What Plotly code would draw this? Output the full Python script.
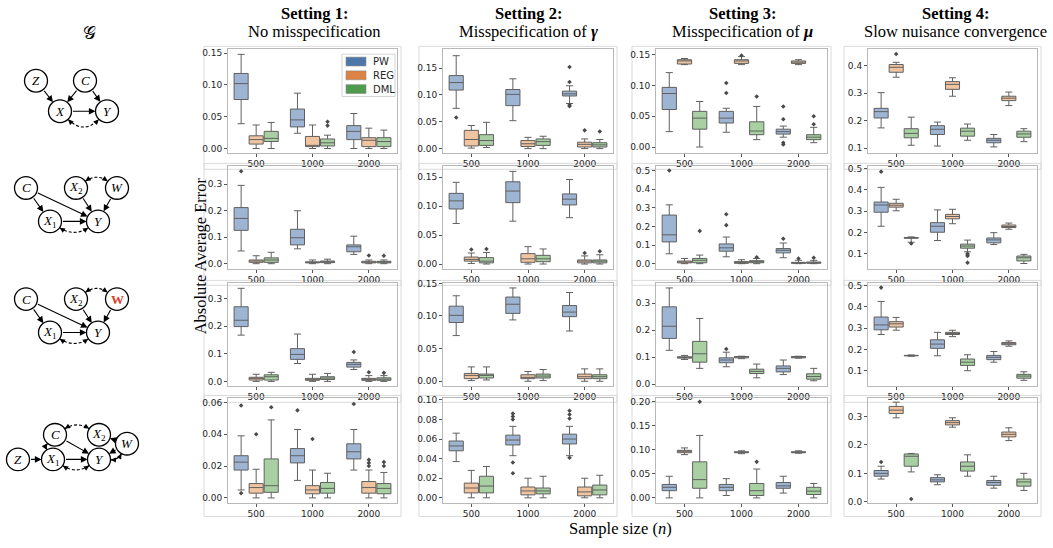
import math
import plotly.graph_objects as go

W, H = 1053, 548

# ---------------- data ----------------
SAMPLE_SIZES = [500, 1000, 2000]
METHODS = ["PW", "REG", "DML"]
SETTING_TITLES = ["<b>Setting 1:</b>", "<b>Setting 2:</b>", "<b>Setting 3:</b>", "<b>Setting 4:</b>"]
SETTING_SUBTITLES = ["No misspecification", "Misspecification of <b><i>γ</i></b>",
                     "Misspecification of <b><i>μ</i></b>", "Slow nuisance convergence"]

# each box: (lower whisker, q1, median, q3, upper whisker) for n = 500, 1000, 2000
# Graph 1
G1_S1_PW = [(0.039, 0.077, 0.102, 0.118, 0.148), (0.024, 0.034, 0.045, 0.062, 0.087), (0.0, 0.014, 0.027, 0.036, 0.055)]
G1_S1_REG = [(0.0, 0.007, 0.014, 0.020, 0.037), (0.0, 0.003, 0.005, 0.019, 0.037), (0.0, 0.003, 0.013, 0.017, 0.032)]
G1_S1_DML = [(0.0, 0.011, 0.016, 0.027, 0.041), (0.0, 0.004, 0.009, 0.015, 0.021), (0.0, 0.003, 0.011, 0.017, 0.029)]
G1_S1_OUT = [("DML", 1000, 0.042), ("DML", 1000, 0.036)]

G1_S2_PW = [(0.075, 0.109, 0.123, 0.136, 0.173), (0.052, 0.080, 0.101, 0.110, 0.130), (0.084, 0.098, 0.102, 0.107, 0.117)]
G1_S2_REG = [(0.001, 0.005, 0.017, 0.034, 0.043), (0.0, 0.004, 0.009, 0.015, 0.021), (0.0, 0.003, 0.008, 0.012, 0.018)]
G1_S2_DML = [(0.002, 0.006, 0.015, 0.026, 0.049), (0.0, 0.006, 0.013, 0.018, 0.023), (0.0, 0.003, 0.007, 0.011, 0.017)]
G1_S2_OUT = [("PW", 500, 0.058), ("PW", 2000, 0.152), ("PW", 2000, 0.124), ("PW", 2000, 0.081),
             ("PW", 2000, 0.079), ("REG", 2000, 0.034), ("DML", 2000, 0.032)]

G1_S3_PW = [(0.025, 0.061, 0.087, 0.097, 0.121), (0.024, 0.039, 0.047, 0.058, 0.063), (0.016, 0.021, 0.025, 0.029, 0.034)]
G1_S3_REG = [(0.134, 0.135, 0.140, 0.142, 0.144), (0.134, 0.136, 0.140, 0.142, 0.147), (0.134, 0.136, 0.138, 0.140, 0.142)]
G1_S3_DML = [(0.0, 0.029, 0.047, 0.058, 0.074), (0.012, 0.020, 0.026, 0.041, 0.066), (0.007, 0.012, 0.016, 0.020, 0.032)]
G1_S3_OUT = [("PW", 1000, 0.104), ("PW", 1000, 0.088), ("REG", 1000, 0.149), ("DML", 1000, 0.082),
             ("PW", 2000, 0.066), ("PW", 2000, 0.045), ("PW", 2000, 0.007), ("PW", 2000, 0.004),
             ("DML", 2000, 0.050), ("DML", 2000, 0.037)]

G1_S4_PW = [(0.174, 0.210, 0.233, 0.245, 0.302), (0.108, 0.150, 0.169, 0.182, 0.195), (0.105, 0.120, 0.129, 0.136, 0.150)]
G1_S4_REG = [(0.358, 0.376, 0.394, 0.404, 0.412), (0.289, 0.314, 0.332, 0.342, 0.356), (0.255, 0.273, 0.282, 0.289, 0.304)]
G1_S4_DML = [(0.111, 0.138, 0.154, 0.171, 0.213), (0.129, 0.144, 0.162, 0.173, 0.188), (0.124, 0.140, 0.152, 0.162, 0.171)]
G1_S4_OUT = [("REG", 500, 0.442)]

# Graph 2
G2_S1_PW = [(0.048, 0.126, 0.171, 0.212, 0.296), (0.056, 0.071, 0.098, 0.130, 0.200), (0.035, 0.045, 0.064, 0.071, 0.104)]
G2_S1_REG = [(0.0, 0.005, 0.010, 0.014, 0.030), (0.0, 0.003, 0.005, 0.007, 0.014), (0.0, 0.003, 0.006, 0.009, 0.014)]
G2_S1_DML = [(0.0, 0.005, 0.014, 0.022, 0.043), (0.0, 0.004, 0.007, 0.010, 0.017), (0.0, 0.003, 0.006, 0.009, 0.014)]
G2_S1_OUT = [("PW", 500, 0.349), ("REG", 2000, 0.031), ("DML", 2000, 0.030)]

G2_S2_PW = [(0.070, 0.095, 0.109, 0.122, 0.141), (0.074, 0.106, 0.126, 0.142, 0.160), (0.080, 0.102, 0.112, 0.121, 0.146)]
G2_S2_REG = [(0.001, 0.005, 0.008, 0.012, 0.019), (0.0, 0.003, 0.009, 0.018, 0.030), (0.0, 0.002, 0.005, 0.007, 0.014)]
G2_S2_DML = [(0.0, 0.002, 0.005, 0.011, 0.020), (0.0, 0.004, 0.009, 0.015, 0.026), (0.0, 0.002, 0.005, 0.007, 0.016)]
G2_S2_OUT = [("REG", 500, 0.025), ("DML", 500, 0.026), ("REG", 2000, 0.019), ("DML", 2000, 0.022)]

G2_S3_PW = [(0.053, 0.117, 0.155, 0.261, 0.316), (0.037, 0.067, 0.085, 0.106, 0.143), (0.032, 0.058, 0.072, 0.081, 0.111)]
G2_S3_REG = [(0.0, 0.004, 0.009, 0.014, 0.028), (0.0, 0.002, 0.005, 0.011, 0.021), (0.0, 0.002, 0.004, 0.007, 0.018)]
G2_S3_DML = [(0.0, 0.005, 0.018, 0.028, 0.046), (0.0, 0.005, 0.011, 0.016, 0.028), (0.0, 0.002, 0.005, 0.009, 0.018)]
G2_S3_OUT = [("PW", 500, 0.50), ("DML", 500, 0.175), ("PW", 1000, 0.265), ("PW", 1000, 0.207),
             ("DML", 1000, 0.034), ("PW", 2000, 0.134), ("REG", 2000, 0.028), ("DML", 2000, 0.032)]

G2_S4_PW = [(0.229, 0.295, 0.329, 0.343, 0.412), (0.162, 0.201, 0.229, 0.246, 0.306), (0.143, 0.151, 0.165, 0.174, 0.199)]
G2_S4_REG = [(0.302, 0.319, 0.328, 0.337, 0.356), (0.241, 0.264, 0.275, 0.285, 0.309), (0.215, 0.223, 0.227, 0.235, 0.244)]
G2_S4_DML = [(0.154, 0.173, 0.174, 0.176, 0.179), (0.109, 0.126, 0.136, 0.145, 0.164), (0.054, 0.066, 0.081, 0.089, 0.097)]
G2_S4_OUT = [("PW", 500, 0.486), ("DML", 500, 0.148), ("DML", 1000, 0.100), ("DML", 1000, 0.094),
             ("DML", 1000, 0.089), ("DML", 1000, 0.058)]

# Graph 3
G3_S1_PW = [(0.168, 0.199, 0.222, 0.271, 0.338), (0.065, 0.080, 0.098, 0.119, 0.172), (0.043, 0.052, 0.062, 0.069, 0.078)]
G3_S1_REG = [(0.0, 0.005, 0.011, 0.015, 0.026), (0.0, 0.004, 0.007, 0.011, 0.026), (0.0, 0.004, 0.007, 0.011, 0.021)]
G3_S1_DML = [(0.0, 0.005, 0.017, 0.024, 0.033), (0.0, 0.007, 0.012, 0.017, 0.029), (0.0, 0.004, 0.008, 0.013, 0.021)]
G3_S1_OUT = [("PW", 2000, 0.107), ("REG", 2000, 0.033), ("DML", 2000, 0.031)]

G3_S2_PW = [(0.070, 0.090, 0.101, 0.115, 0.131), (0.094, 0.104, 0.118, 0.129, 0.143), (0.077, 0.099, 0.106, 0.116, 0.136)]
G3_S2_REG = [(0.001, 0.004, 0.009, 0.012, 0.022), (0.0, 0.004, 0.006, 0.010, 0.015), (0.0, 0.004, 0.007, 0.011, 0.019)]
G3_S2_DML = [(0.002, 0.005, 0.009, 0.011, 0.022), (0.001, 0.005, 0.008, 0.011, 0.018), (0.0, 0.004, 0.007, 0.010, 0.019)]
G3_S2_OUT = []

G3_S3_PW = [(0.125, 0.169, 0.214, 0.286, 0.356), (0.064, 0.079, 0.089, 0.097, 0.118), (0.035, 0.045, 0.058, 0.067, 0.089)]
G3_S3_REG = [(0.091, 0.096, 0.098, 0.101, 0.106), (0.094, 0.097, 0.100, 0.102, 0.103), (0.096, 0.097, 0.100, 0.102, 0.103)]
G3_S3_DML = [(0.058, 0.081, 0.112, 0.158, 0.243), (0.023, 0.039, 0.047, 0.055, 0.074), (0.012, 0.018, 0.028, 0.038, 0.058)]
G3_S3_OUT = [("PW", 1000, 0.130)]

G3_S4_PW = [(0.270, 0.292, 0.315, 0.352, 0.425), (0.170, 0.205, 0.225, 0.245, 0.280), (0.140, 0.152, 0.163, 0.172, 0.190)]
G3_S4_REG = [(0.290, 0.305, 0.320, 0.330, 0.350), (0.260, 0.270, 0.275, 0.280, 0.290), (0.215, 0.222, 0.226, 0.232, 0.240)]
G3_S4_DML = [(0.168, 0.170, 0.171, 0.172, 0.174), (0.100, 0.125, 0.140, 0.155, 0.175), (0.055, 0.065, 0.075, 0.083, 0.095)]
G3_S4_OUT = [("PW", 500, 0.490)]

# Graph 4
G4_S1_PW = [(0.005, 0.0175, 0.0225, 0.0265, 0.039), (0.011, 0.022, 0.0265, 0.031, 0.043), (0.0175, 0.0245, 0.029, 0.034, 0.043)]
G4_S1_REG = [(0.0, 0.003, 0.0065, 0.009, 0.018), (0.0, 0.0026, 0.005, 0.0077, 0.0175), (0.0, 0.003, 0.0065, 0.0103, 0.0175)]
G4_S1_DML = [(0.0, 0.0035, 0.0077, 0.0245, 0.049), (0.0, 0.003, 0.006, 0.0097, 0.0155), (0.0, 0.0026, 0.006, 0.009, 0.016)]
G4_S1_OUT = [("PW", 500, 0.058), ("PW", 500, 0.003), ("DML", 500, 0.057), ("REG", 500, 0.040),
             ("PW", 1000, 0.055), ("REG", 1000, 0.037), ("PW", 2000, 0.059), ("REG", 2000, 0.024),
             ("REG", 2000, 0.022), ("REG", 2000, 0.020), ("DML", 2000, 0.0225), ("DML", 2000, 0.020)]

G4_S2_PW = [(0.037, 0.048, 0.053, 0.058, 0.066), (0.043, 0.054, 0.059, 0.064, 0.073), (0.043, 0.055, 0.060, 0.065, 0.073)]
G4_S2_REG = [(0.0, 0.005, 0.010, 0.015, 0.028), (0.0, 0.003, 0.007, 0.011, 0.020), (0.0, 0.002, 0.006, 0.011, 0.020)]
G4_S2_DML = [(0.0, 0.005, 0.012, 0.022, 0.032), (0.0, 0.004, 0.007, 0.010, 0.022), (0.0, 0.003, 0.008, 0.013, 0.023)]
G4_S2_OUT = [("PW", 1000, 0.080), ("PW", 1000, 0.083), ("PW", 1000, 0.086), ("PW", 1000, 0.036),
             ("PW", 1000, 0.025), ("PW", 2000, 0.081), ("PW", 2000, 0.085), ("PW", 2000, 0.089),
             ("PW", 2000, 0.041)]

G4_S3_PW = [(0.0, 0.015, 0.022, 0.028, 0.045), (0.005, 0.015, 0.022, 0.028, 0.040), (0.010, 0.020, 0.025, 0.032, 0.045)]
G4_S3_REG = [(0.090, 0.094, 0.097, 0.099, 0.104), (0.092, 0.094, 0.095, 0.096, 0.098), (0.093, 0.094, 0.095, 0.096, 0.098)]
G4_S3_DML = [(0.0, 0.020, 0.038, 0.075, 0.130), (0.0, 0.005, 0.015, 0.030, 0.060), (0.0, 0.007, 0.014, 0.022, 0.030)]
G4_S3_OUT = [("DML", 500, 0.200), ("DML", 1000, 0.075)]

G4_S4_PW = [(0.080, 0.090, 0.100, 0.110, 0.125), (0.060, 0.070, 0.077, 0.085, 0.095), (0.048, 0.058, 0.068, 0.075, 0.090)]
G4_S4_REG = [(0.295, 0.310, 0.322, 0.335, 0.350), (0.262, 0.270, 0.278, 0.285, 0.295), (0.215, 0.228, 0.237, 0.245, 0.260)]
G4_S4_DML = [(0.105, 0.125, 0.160, 0.168, 0.170), (0.090, 0.108, 0.125, 0.140, 0.165), (0.040, 0.055, 0.070, 0.080, 0.100)]
G4_S4_OUT = [("PW", 500, 0.140), ("DML", 500, 0.010)]

PANELS = [
    [(G1_S1_PW, G1_S1_REG, G1_S1_DML, G1_S1_OUT), (G1_S2_PW, G1_S2_REG, G1_S2_DML, G1_S2_OUT),
     (G1_S3_PW, G1_S3_REG, G1_S3_DML, G1_S3_OUT), (G1_S4_PW, G1_S4_REG, G1_S4_DML, G1_S4_OUT)],
    [(G2_S1_PW, G2_S1_REG, G2_S1_DML, G2_S1_OUT), (G2_S2_PW, G2_S2_REG, G2_S2_DML, G2_S2_OUT),
     (G2_S3_PW, G2_S3_REG, G2_S3_DML, G2_S3_OUT), (G2_S4_PW, G2_S4_REG, G2_S4_DML, G2_S4_OUT)],
    [(G3_S1_PW, G3_S1_REG, G3_S1_DML, G3_S1_OUT), (G3_S2_PW, G3_S2_REG, G3_S2_DML, G3_S2_OUT),
     (G3_S3_PW, G3_S3_REG, G3_S3_DML, G3_S3_OUT), (G3_S4_PW, G3_S4_REG, G3_S4_DML, G3_S4_OUT)],
    [(G4_S1_PW, G4_S1_REG, G4_S1_DML, G4_S1_OUT), (G4_S2_PW, G4_S2_REG, G4_S2_DML, G4_S2_OUT),
     (G4_S3_PW, G4_S3_REG, G4_S3_DML, G4_S3_OUT), (G4_S4_PW, G4_S4_REG, G4_S4_DML, G4_S4_OUT)],
]

# ---------------- layout / style ----------------
COL_X = [(228, 397), (443, 613), (656, 827), (868, 1037)]
ROW_Y = [(45, 150), (164, 268), (283, 387), (400, 506)]
Y_RANGES = [
    [(-0.0063, 0.156), (-0.0073, 0.185), (-0.009, 0.159), (0.0845, 0.4595)],
    [(-0.0186, 0.368), (-0.0079, 0.1687), (-0.0265, 0.523), (0.030, 0.511)],
    [(-0.0154, 0.356), (-0.0067, 0.150), (-0.006, 0.373), (0.030, 0.510)],
    [(-0.003, 0.0625), (-0.005, 0.1015), (-0.010, 0.207), (-0.003, 0.363)],
]
Y_DTICK = [
    [(0.05, ".2f"), (0.05, ".2f"), (0.05, ".2f"), (0.1, ".1f")],
    [(0.1, ".1f"), (0.05, ".2f"), (0.1, ".1f"), (0.1, ".1f")],
    [(0.1, ".1f"), (0.05, ".2f"), (0.1, ".1f"), (0.1, ".1f")],
    [(0.02, ".2f"), (0.02, ".2f"), (0.05, ".2f"), (0.1, ".1f")],
]
BOX_FILL = {"PW": "#9db5d3", "REG": "#f0c4a0", "DML": "#a8d0a2"}
LEGEND_FILL = {"PW": "#4b78a9", "REG": "#db8344", "DML": "#4f9b4d"}
OFFSETS = {"PW": -0.267, "REG": 0.0, "DML": 0.267}
LINE_C = "#606060"
TICK_FONT = dict(family="DejaVu Sans", size=9, color="#262626")
SERIF = "Liberation Serif"


def px(x, y):
    return x / W, 1 - y / H


fig = go.Figure()
layout = dict(width=W, height=H, margin=dict(l=0, r=0, t=0, b=0, pad=0), autosize=False,
              paper_bgcolor="white", plot_bgcolor="white", showlegend=False,
              boxmode="overlay")
shapes = []
annotations = []

k = 0
for r in range(4):
    for c in range(4):
        k += 1
        xa = "x" if k == 1 else f"x{k}"
        ya = "y" if k == 1 else f"y{k}"
        pw, reg, dml, outs = PANELS[r][c]
        series = {"PW": pw, "REG": reg, "DML": dml}
        for m in METHODS:
            st = series[m]
            fig.add_trace(go.Box(
                x=[i + OFFSETS[m] for i in range(len(SAMPLE_SIZES))],
                lowerfence=[s[0] for s in st], q1=[s[1] for s in st], median=[s[2] for s in st],
                q3=[s[3] for s in st], upperfence=[s[4] for s in st],
                orientation="v", width=0.25, whiskerwidth=0.5, boxpoints=False,
                fillcolor=BOX_FILL[m], line=dict(color=LINE_C, width=1),
                xaxis=xa, yaxis=ya, hoverinfo="skip", name=m))
        if outs:
            fig.add_trace(go.Scatter(
                x=[SAMPLE_SIZES.index(n) + OFFSETS[m] for (m, n, v) in outs],
                y=[v for (m, n, v) in outs], mode="markers",
                marker=dict(symbol="diamond", size=3.5, color="#4a4a4a"),
                xaxis=xa, yaxis=ya, hoverinfo="skip"))
        x0, x1 = COL_X[c]
        y0, y1 = ROW_Y[r]
        dt, fmt = Y_DTICK[r][c]
        common = dict(showline=True, linecolor="#b8b8b8", linewidth=1, mirror=True,
                      ticks="outside", ticklen=3, tickcolor="#555", tickwidth=1,
                      showgrid=False, zeroline=False, tickfont=TICK_FONT)
        layout["xaxis" if k == 1 else f"xaxis{k}"] = dict(
            domain=[x0 / W, x1 / W], anchor=ya, range=[-0.5, 2.5],
            tickmode="array", tickvals=list(range(len(SAMPLE_SIZES))),
            ticktext=[str(n) for n in SAMPLE_SIZES], **common)
        layout["yaxis" if k == 1 else f"yaxis{k}"] = dict(
            domain=[1 - y1 / H, 1 - y0 / H], anchor=xa, range=list(Y_RANGES[r][c]),
            tick0=0, dtick=dt, tickformat=fmt, **common)
        # subfigure frame
        fx0, fy0 = px(x0 - 24, y0 - 3)
        fx1, fy1 = px(x1 + 4, y1 + (14 if r == 3 else 17))
        shapes.append(dict(type="rect", xref="paper", yref="paper", x0=fx0, x1=fx1, y0=fy0, y1=fy1,
                           line=dict(color="#dadada", width=1), layer="below"))

# custom legend in first panel
lx0, ly0 = px(342, 50)
lx1, ly1 = px(395, 93)
shapes.append(dict(type="rect", xref="paper", yref="paper", x0=lx0, x1=lx1, y0=ly0, y1=ly1,
                   line=dict(color="#d4d4d4", width=1), fillcolor="white"))
for i, m in enumerate(METHODS):
    cy = 57.5 + 14 * i
    a0, b0 = px(346, cy - 4.5)
    a1, b1 = px(366, cy + 4.5)
    shapes.append(dict(type="rect", xref="paper", yref="paper", x0=a0, x1=a1, y0=b0, y1=b1,
                       line=dict(color="#8a8a8a", width=0.6), fillcolor=LEGEND_FILL[m]))
    tx, ty = px(371, cy)
    annotations.append(dict(x=tx, y=ty, xref="paper", yref="paper", text=m, showarrow=False,
                            xanchor="left", yanchor="middle",
                            font=dict(family="DejaVu Sans", size=10, color="#262626")))

# column titles
TITLE_CX = [314, 528, 742, 955]
for c in range(4):
    tx, ty = px(TITLE_CX[c], 9)
    annotations.append(dict(x=tx, y=ty, xref="paper", yref="paper", text=SETTING_TITLES[c],
                            showarrow=False, xanchor="center", yanchor="middle",
                            font=dict(family=SERIF, size=16.5, color="black")))
    tx, ty = px(TITLE_CX[c], 27)
    annotations.append(dict(x=tx, y=ty, xref="paper", yref="paper", text=SETTING_SUBTITLES[c],
                            showarrow=False, xanchor="center", yanchor="middle",
                            font=dict(family=SERIF, size=16.5, color="black")))

# axis titles
tx, ty = px(620, 532)
annotations.append(dict(x=tx, y=ty, xref="paper", yref="paper", text="Sample size (<i>n</i>)",
                        showarrow=False, yanchor="middle", font=dict(family=SERIF, size=16.5, color="black")))
tx, ty = px(189, 255)
annotations.append(dict(x=tx, y=ty, xref="paper", yref="paper", text="Absolute Average Error",
                        showarrow=False, textangle=-90, font=dict(family=SERIF, size=16.5, color="black")))

# ---------------- causal graphs ----------------
R = 11.5
tx, ty = px(81, 15)
annotations.append(dict(x=tx, y=ty, xref="paper", yref="paper", text="𝒢", showarrow=False,
                        font=dict(family="DejaVu Serif", size=18, color="black")))


def node(p, label, color="black"):
    a0, b0 = px(p[0] - R, p[1] + R)
    a1, b1 = px(p[0] + R, p[1] - R)
    shapes.append(dict(type="circle", xref="paper", yref="paper", x0=a0, x1=a1, y0=b0, y1=b1,
                       line=dict(color="black", width=1.3), fillcolor="white"))
    tx, ty = px(p[0], p[1])
    annotations.append(dict(x=tx, y=ty, xref="paper", yref="paper", text=label, showarrow=False,
                            xanchor="center", yanchor="middle",
                            font=dict(family=SERIF, size=13, color=color)))


def arrow(a, b):
    tx, ty = px(b[0], b[1])
    annotations.append(dict(x=tx, y=ty, xref="paper", yref="paper", text="", showarrow=True,
                            ax=a[0] - b[0], ay=a[1] - b[1], axref="pixel", ayref="pixel",
                            arrowhead=2, arrowsize=1.2, arrowwidth=1.1, arrowcolor="black",
                            standoff=R, startstandoff=R))


def head(tip, d):
    L = 5.5
    w = 2.6
    bx, by = tip[0] - d[0] * L, tip[1] - d[1] * L
    p1 = (bx - d[1] * w, by + d[0] * w)
    p2 = (bx + d[1] * w, by - d[0] * w)
    pts = [px(*tip), px(*p1), px(*p2)]
    path = "M {:.5f},{:.5f} L {:.5f},{:.5f} L {:.5f},{:.5f} Z".format(
        pts[0][0], pts[0][1], pts[1][0], pts[1][1], pts[2][0], pts[2][1])
    shapes.append(dict(type="path", path=path, xref="paper", yref="paper",
                       fillcolor="black", line=dict(width=0)))


def bidir(a, b, bend):
    mx, my = (a[0] + b[0]) / 2, (a[1] + b[1]) / 2
    dx, dy = b[0] - a[0], b[1] - a[1]
    L = math.hypot(dx, dy)
    cx, cy = mx - dy / L * bend, my + dx / L * bend

    def onb(n):
        ux, uy = cx - n[0], cy - n[1]
        l = math.hypot(ux, uy)
        return (n[0] + ux / l * R, n[1] + uy / l * R)
    s = onb(a)
    e = onb(b)
    ps, pc, pe = px(*s), px(cx, cy), px(*e)
    path = "M {:.5f},{:.5f} Q {:.5f},{:.5f} {:.5f},{:.5f}".format(ps[0], ps[1], pc[0], pc[1], pe[0], pe[1])
    shapes.append(dict(type="path", path=path, xref="paper", yref="paper",
                       line=dict(color="black", width=1.1, dash="3px,2px")))
    for tip in (s, e):
        ux, uy = tip[0] - cx, tip[1] - cy
        l = math.hypot(ux, uy)
        head(tip, (ux / l, uy / l))


# graph 1
Z, C, X, Y = (36, 77), (85, 77), (60, 108), (107, 108)
bidir(X, Y, 24)
arrow(Z, X); arrow(C, X); arrow(C, Y); arrow(X, Y)
node(Z, "<i>Z</i>"); node(C, "<i>C</i>"); node(X, "<i>X</i>"); node(Y, "<i>Y</i>")

# graph 2 and 3
for gy, wlabel, wcol in ((186, "<i>W</i>", "black"), (299, "<b>W</b>", "#d9402b")):
    C, X2, Wn = (26, gy), (76, gy), (117, gy)
    X1, Y = (50, gy + 34), (98, gy + 34)
    bidir(X2, Wn, -15)
    bidir(X1, Y, 16)
    arrow(C, X1); arrow(C, Y); arrow(X2, Y); arrow(Wn, Y); arrow(X1, Y)
    node(C, "<i>C</i>"); node(X2, "<i>X</i><sub>2</sub>"); node(Wn, wlabel, wcol)
    node(X1, "<i>X</i><sub>1</sub>"); node(Y, "<i>Y</i>")

# graph 4
C, X2, Wn = (55, 437), (99, 437), (127, 446)
Z, X1, Y = (18, 462), (53, 462), (99, 462)
bidir(C, X2, -14)
bidir(C, X1, 9)
bidir(X1, Y, 15)
bidir(Y, Wn, 10)
arrow(Z, X1); arrow(X1, Y); arrow(C, Y); arrow(X2, Y); arrow(Wn, X2); arrow(Wn, Y)
node(C, "<i>C</i>"); node(X2, "<i>X</i><sub>2</sub>"); node(Wn, "<i>W</i>")
node(Z, "<i>Z</i>"); node(X1, "<i>X</i><sub>1</sub>"); node(Y, "<i>Y</i>")

layout["shapes"] = shapes
layout["annotations"] = annotations
fig.update_layout(**layout)
fig.write_html("out.html", config={"displayModeBar": False, "staticPlot": True},
               post_script="document.body.style.margin='0px';document.body.style.overflow='hidden';")
